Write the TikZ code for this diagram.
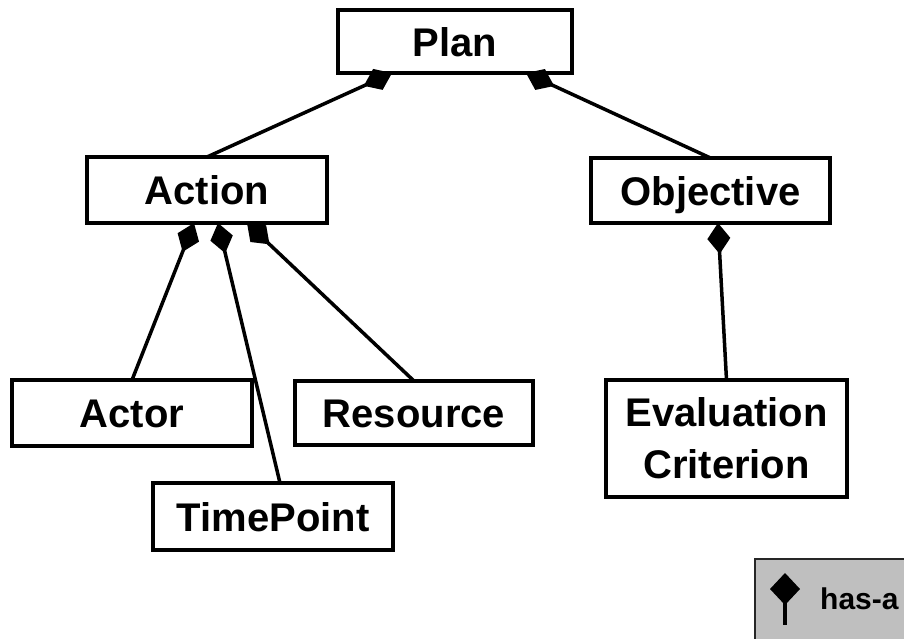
\documentclass[tikz,border=0pt]{standalone}
\usepackage{fontspec}
\setmainfont{Liberation Sans}
\usetikzlibrary{arrows.meta}
\begin{document}
\begin{tikzpicture}[x=1pt,y=-1pt,
  cls/.style={draw=black, line width=4pt, fill=white, inner sep=0pt, outer sep=0pt,
    minimum width=240pt, minimum height=66pt, align=center,
    text height=29pt, text depth=0pt,
    font=\fontsize{40}{52}\selectfont\bfseries},
  hasa/.style={line width=3.5pt, {Diamond[length=31pt,width=23pt]}-},
  legendbox/.style={draw=black!85, line width=2pt, fill=black!25, inner sep=0pt, outer sep=0pt}
]
\useasboundingbox (0,0) rectangle (904,638);
\clip (0,0) rectangle (904,638);

% class boxes
\node[cls, minimum width=234pt, minimum height=63pt] (plan) at (455,41.5) {Plan};
\node[cls] (action)    at (207,190)   {Action};
\node[cls, minimum width=239pt, minimum height=65pt] (objective) at (710.5,190.5) {Objective};
\node[cls] (actor)     at (132,413)   {Actor};
\node[cls, minimum width=238pt, minimum height=64pt] (resource)  at (414,413)   {Resource};
\node[cls, minimum height=67pt] (timepoint) at (273,516.5) {TimePoint};
\node[cls, minimum width=241pt, minimum height=117pt, text height=, text depth=] (criterion) at (726.5,438.5) {Evaluation\\Criterion};

% has-a connectors, diamond at the owning class
\draw[hasa] ([xshift=-63pt]plan.south) -- (action.north);
\draw[hasa] ([xshift=71pt]plan.south) -- (objective.north);
\draw[hasa] ([xshift=-13pt]action.south) -- (actor.north);
\draw[hasa] ([xshift=11pt]action.south) -- ([xshift=7pt]timepoint.north);
\draw[hasa] ([xshift=40pt]action.south) -- (resource.north);
\draw[hasa] ([xshift=7.5pt]objective.south) -- (criterion.north);

% legend
\node[legendbox, anchor=north west, minimum width=170pt, minimum height=100pt] (legend) at (755,559) {};
\coordinate (ltop) at (785,573);
\coordinate (lbot) at (785,625);
\draw[line width=3.5pt, {Diamond[length=32pt,width=30pt]}-] (ltop) -- (lbot);
\node[anchor=west, inner sep=0pt, font=\fontsize{30}{34}\selectfont\bfseries] (hasalabel) at (820,599) {has-a};
\end{tikzpicture}
\end{document}
